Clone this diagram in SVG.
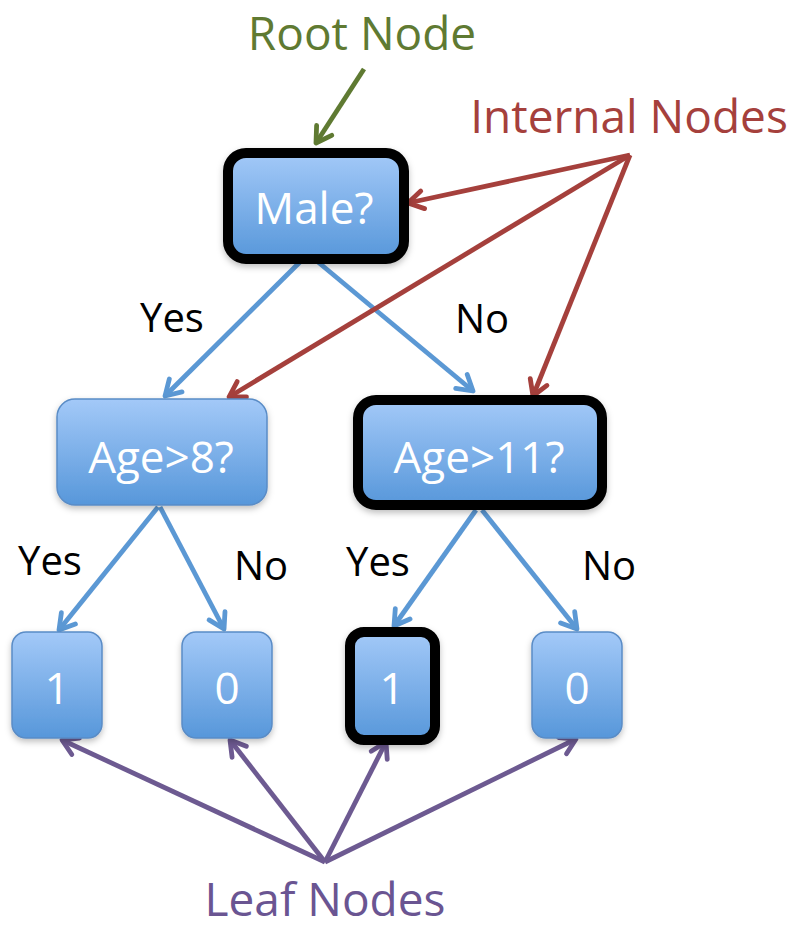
<svg xmlns="http://www.w3.org/2000/svg" width="794" height="930" viewBox="0 0 794 930">
  <style>
    text { font-family: "Open Sans", "Noto Sans", "DejaVu Sans", sans-serif; }
    .node { fill: url(#nodeFill); stroke: #5a8cc6; stroke-width: 1.5; filter: url(#shadow); }
    .node.bold { stroke: #000; stroke-width: 10; }
    .ntext { fill: #fff; font-size: 44px; text-anchor: middle; }
    .lbl { fill: #000; font-size: 40px; text-anchor: middle; }
    .cap { font-size: 46px; text-anchor: middle; }
    .blue { stroke: #5b98d4; stroke-width: 4.8; fill: none; marker-end: url(#ahBlue); }
    .red { stroke: #a5403c; stroke-width: 4.8; fill: none; marker-end: url(#ahRed); }
    .green { stroke: #5f7a32; stroke-width: 4.8; fill: none; marker-end: url(#ahGreen); }
    .purple { stroke: #6d5a91; stroke-width: 4.8; fill: none; marker-end: url(#ahPurple); }
  </style>
  <defs>
    <linearGradient id="nodeFill" x1="0" y1="0" x2="0" y2="1">
      <stop offset="0" stop-color="#a3c9f8"/>
      <stop offset="1" stop-color="#5797da"/>
    </linearGradient>
    <filter id="shadow" x="-20%" y="-20%" width="140%" height="150%">
      <feDropShadow dx="0" dy="3" stdDeviation="3" flood-color="#000" flood-opacity="0.25"/>
    </filter>
    <marker id="ahBlue" viewBox="0 0 24 24" refX="20" refY="12" markerWidth="24" markerHeight="24" markerUnits="userSpaceOnUse" orient="auto">
      <path d="M5,3 L20,12 L5,21" fill="none" stroke="#5b98d4" stroke-width="4.8" stroke-linecap="round" stroke-linejoin="round"/>
    </marker>
    <marker id="ahRed" viewBox="0 0 24 24" refX="20" refY="12" markerWidth="24" markerHeight="24" markerUnits="userSpaceOnUse" orient="auto">
      <path d="M5,3 L20,12 L5,21" fill="none" stroke="#a5403c" stroke-width="4.8" stroke-linecap="round" stroke-linejoin="round"/>
    </marker>
    <marker id="ahGreen" viewBox="0 0 24 24" refX="20" refY="12" markerWidth="24" markerHeight="24" markerUnits="userSpaceOnUse" orient="auto">
      <path d="M5,3 L20,12 L5,21" fill="none" stroke="#5f7a32" stroke-width="4.8" stroke-linecap="round" stroke-linejoin="round"/>
    </marker>
    <marker id="ahPurple" viewBox="0 0 24 24" refX="20" refY="12" markerWidth="24" markerHeight="24" markerUnits="userSpaceOnUse" orient="auto">
      <path d="M5,3 L20,12 L5,21" fill="none" stroke="#6d5a91" stroke-width="4.8" stroke-linecap="round" stroke-linejoin="round"/>
    </marker>
  </defs>

  <rect width="794" height="930" fill="#fff"/>

  <!-- tree edges -->
  <g id="connectors">
    <path class="blue" d="M300,262 L165,396"/>
    <path class="blue" d="M318,262 L473,391"/>
    <path class="blue" d="M158,507 L59,630"/>
    <path class="blue" d="M160,507 L224,629"/>
    <path class="blue" d="M476,510 L394,626"/>
    <path class="blue" d="M482,510 L577,629"/>
    <!-- callout arrows -->
    <path class="green" d="M364,69 L316,143"/>
    <path class="red" d="M630,155 L408,203"/>
    <path class="red" d="M630,155 L229,397"/>
    <path class="red" d="M630,155 L533,396"/>
    <path class="purple" d="M325,862 L62,740"/>
    <path class="purple" d="M325,862 L230,740"/>
    <path class="purple" d="M325,862 L386,742"/>
    <path class="purple" d="M325,862 L576,739"/>
  </g>

  <g id="root">
    <rect class="node bold" x="228" y="153" width="176" height="106" rx="18"/>
    <text class="ntext" x="314" y="224">Male?</text>
  </g>
  <g id="age8">
    <rect class="node" x="57" y="399" width="210" height="106" rx="18"/>
    <text class="ntext" x="161" y="473">Age&gt;8?</text>
  </g>
  <g id="age11">
    <rect class="node bold" x="358" y="400" width="244" height="105" rx="18"/>
    <text class="ntext" x="479" y="473">Age&gt;11?</text>
  </g>
  <g id="leaf1">
    <rect class="node" x="12" y="632" width="90" height="106" rx="14"/>
    <text class="ntext" x="57" y="704">1</text>
  </g>
  <g id="leaf2">
    <rect class="node" x="182" y="632" width="90" height="106" rx="14"/>
    <text class="ntext" x="227" y="704">0</text>
  </g>
  <g id="leaf3">
    <rect class="node bold" x="350" y="632" width="85" height="108" rx="14"/>
    <text class="ntext" x="392" y="704">1</text>
  </g>
  <g id="leaf4">
    <rect class="node" x="532" y="632" width="90" height="106" rx="14"/>
    <text class="ntext" x="577" y="704">0</text>
  </g>

  <!-- branch labels -->
  <g id="branch-labels">
    <text class="lbl" x="172" y="332">Yes</text>
    <text class="lbl" x="482" y="333">No</text>
    <text class="lbl" x="50" y="575">Yes</text>
    <text class="lbl" x="261" y="580">No</text>
    <text class="lbl" x="378" y="576">Yes</text>
    <text class="lbl" x="609" y="580">No</text>
  </g>

  <!-- callout captions -->
  <g id="captions">
    <text class="cap" x="362" y="50" fill="#5f7a32">Root Node</text>
    <text class="cap" x="629" y="133" fill="#a5403c">Internal Nodes</text>
    <text class="cap" x="325" y="916" fill="#6a5592">Leaf Nodes</text>
  </g>
</svg>
